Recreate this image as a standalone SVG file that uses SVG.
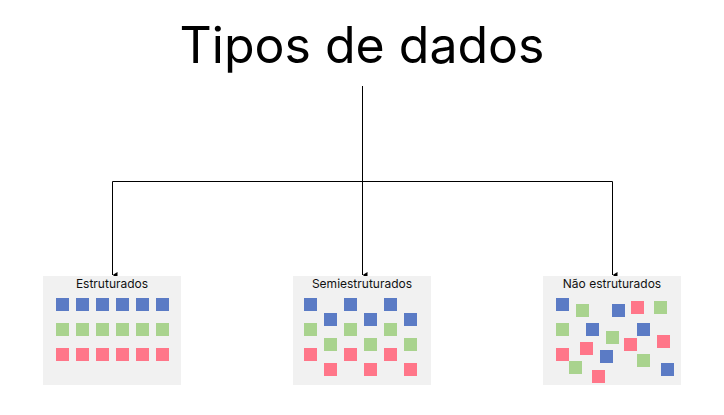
<svg xmlns="http://www.w3.org/2000/svg" width="724" height="415" viewBox="0 0 724 415">
<defs>
<style>
.panel{fill:#f1f1f1}
.lbl{font-family:Inter,"Liberation Sans",sans-serif;font-size:12px;fill:#111;text-anchor:middle}
.b{fill:#5b7bc5}
.g{fill:#a9d38e}
.r{fill:#ff7689}
.ln{stroke:#000;stroke-width:1;fill:none}
</style>
<marker id="ah" viewBox="0 0 6 5" refX="3" refY="5" markerWidth="6" markerHeight="5" orient="auto-start-reverse" markerUnits="userSpaceOnUse">
<path d="M0,0 L6,0 L3,5 Z" fill="#000"/>
</marker>
<rect id="sq" width="13" height="13"/>
</defs>
<rect width="724" height="415" fill="#fff"/>
<text x="362" y="63" font-family="Inter,'Liberation Sans',sans-serif" font-size="50" text-anchor="middle" fill="#000">Tipos de dados</text>

<g id="connectors">
<path class="ln" d="M362.5,86 V181.5"/>
<path class="ln" d="M112.5,181.5 H612.5"/>
<path class="ln" d="M362.5,181.5 V275" marker-end="url(#ah)"/>
<path class="ln" d="M112.5,181.5 V275" marker-end="url(#ah)"/>
<path class="ln" d="M612.5,181.5 V275" marker-end="url(#ah)"/>
</g>

<g id="estruturados">
<rect class="panel" x="43" y="276" width="138" height="109"/>
<text class="lbl" x="112" y="288">Estruturados</text>
<g class="b"><use href="#sq" x="56" y="298"/><use href="#sq" x="76" y="298"/><use href="#sq" x="96" y="298"/><use href="#sq" x="116" y="298"/><use href="#sq" x="136" y="298"/><use href="#sq" x="156" y="298"/></g>
<g class="g"><use href="#sq" x="56" y="323"/><use href="#sq" x="76" y="323"/><use href="#sq" x="96" y="323"/><use href="#sq" x="116" y="323"/><use href="#sq" x="136" y="323"/><use href="#sq" x="156" y="323"/></g>
<g class="r"><use href="#sq" x="56" y="348"/><use href="#sq" x="76" y="348"/><use href="#sq" x="96" y="348"/><use href="#sq" x="116" y="348"/><use href="#sq" x="136" y="348"/><use href="#sq" x="156" y="348"/></g>
</g>

<g id="semiestruturados">
<rect class="panel" x="293" y="276" width="138" height="109"/>
<text class="lbl" x="362" y="288">Semiestruturados</text>
<g class="b"><use href="#sq" x="304" y="298"/><use href="#sq" x="344" y="298"/><use href="#sq" x="384" y="298"/><use href="#sq" x="324" y="313"/><use href="#sq" x="364" y="313"/><use href="#sq" x="404" y="313"/></g>
<g class="g"><use href="#sq" x="304" y="323"/><use href="#sq" x="344" y="323"/><use href="#sq" x="384" y="323"/><use href="#sq" x="324" y="338"/><use href="#sq" x="364" y="338"/><use href="#sq" x="404" y="338"/></g>
<g class="r"><use href="#sq" x="304" y="348"/><use href="#sq" x="344" y="348"/><use href="#sq" x="384" y="348"/><use href="#sq" x="324" y="363"/><use href="#sq" x="364" y="363"/><use href="#sq" x="404" y="363"/></g>
</g>

<g id="nao-estruturados">
<rect class="panel" x="543" y="276" width="138" height="109"/>
<text class="lbl" x="612" y="288">Não estruturados</text>
<g class="b"><use href="#sq" x="556" y="298"/><use href="#sq" x="612" y="304"/><use href="#sq" x="586" y="323"/><use href="#sq" x="637" y="323"/><use href="#sq" x="600" y="350"/><use href="#sq" x="661" y="363"/></g>
<g class="g"><use href="#sq" x="576" y="304"/><use href="#sq" x="654" y="301"/><use href="#sq" x="556" y="323"/><use href="#sq" x="606" y="331"/><use href="#sq" x="637" y="354"/><use href="#sq" x="569" y="361"/></g>
<g class="r"><use href="#sq" x="631" y="301"/><use href="#sq" x="624" y="338"/><use href="#sq" x="657" y="335"/><use href="#sq" x="556" y="348"/><use href="#sq" x="580" y="342"/><use href="#sq" x="592" y="370"/></g>
</g>
</svg>
